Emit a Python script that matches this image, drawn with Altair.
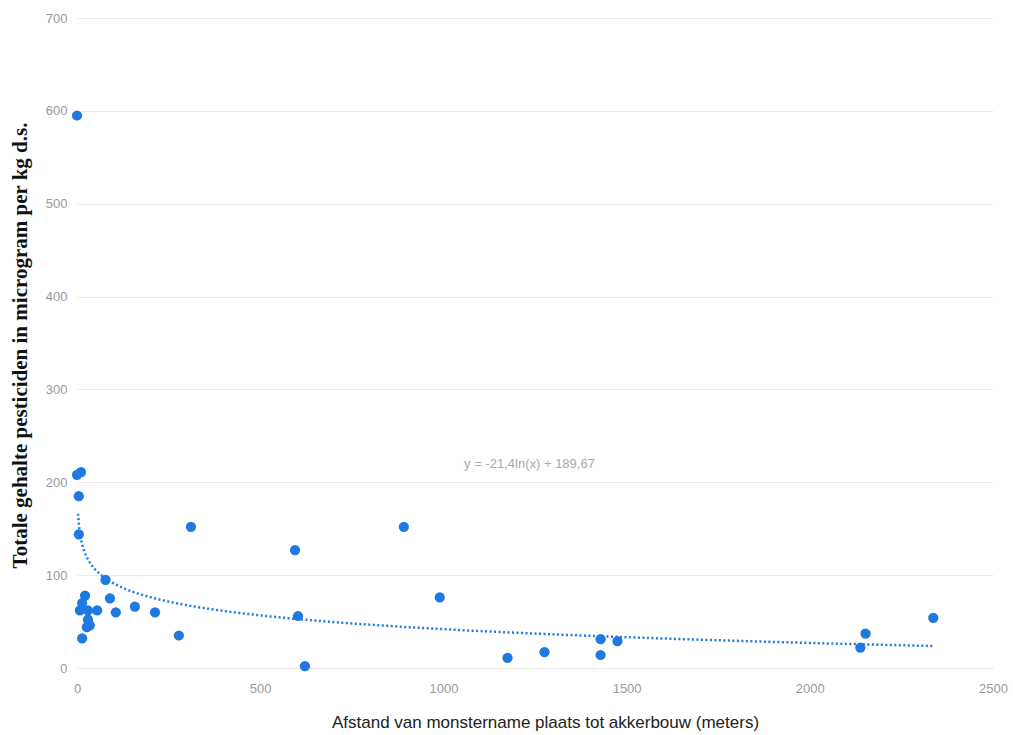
import altair as alt
import pandas as pd

# Distance to arable farming (m) and total pesticide content (µg/kg d.s.)
afstand = [0, 0, 11, 5, 5, 78, 90, 106, 158, 213, 278, 311, 595, 603, 622,
           892, 990, 1175, 1276, 1429, 1429, 1475, 2138, 2152, 2337,
           22, 14, 8, 30, 55, 30, 27, 35, 14]
gehalte = [595, 208, 211, 185, 144, 95, 75, 60, 66, 60, 35, 152, 127, 56, 2,
           152, 76, 11, 17, 31, 14, 29, 22, 37, 54,
           78, 70, 62, 62, 62, 52, 44, 46, 32]

# Logarithmic trendline coefficients shown on the chart
trend_a = -21.4
trend_b = 189.67
trend_start = 3
trend_end = 2340
trend_label = "y = -21,4ln(x) + 189,67"

x_ticks = [0, 500, 1000, 1500, 2000, 2500]
y_ticks = [0, 100, 200, 300, 400, 500, 600, 700]

df = pd.DataFrame({"afstand": afstand, "gehalte": gehalte})

blue = "#1f7ae0"
label_font = "Liberation Sans"

x_scale = alt.Scale(domain=[0, 2500], nice=False)
y_scale = alt.Scale(domain=[0, 700], nice=False)

x_axis = alt.Axis(
    values=x_ticks, format="d", grid=False, domain=True, domainColor="#e6e6e6", ticks=False,
    labelColor="#9a9a9a", labelFont=label_font, labelFontSize=13, labelPadding=14,
    labelFlush=False,
    title="Afstand van monstername plaats tot akkerbouw (meters)",
    titleFont="Liberation Sans", titleFontSize=17, titleFontWeight="normal",
    titleColor="#222222", titleX=468, titleY=54, titleBaseline="middle",
)
y_axis = alt.Axis(
    values=y_ticks, format="d", grid=True, gridColor="#ececec", domain=False, ticks=False,
    labelColor="#9a9a9a", labelFont=label_font, labelFontSize=13, labelPadding=10,
    labelFlush=False,
    title="Totale gehalte pesticiden in microgram per kg d.s.",
    titleFont="Liberation Serif", titleFontSize=21, titleFontWeight="bold",
    titleColor="#111111", titleAngle=-90, titleX=-57, titleY=327,
    titleAlign="center", titleBaseline="middle",
)

points = alt.Chart(df).mark_circle(size=105, color=blue, opacity=1).encode(
    x=alt.X("afstand:Q", scale=x_scale, axis=x_axis),
    y=alt.Y("gehalte:Q", scale=y_scale, axis=y_axis),
)

trend = (
    alt.Chart(alt.SequenceGenerator(sequence=alt.SequenceParams(start=trend_start, stop=trend_end, step=1, **{"as": "tx"})))
    .transform_calculate(ty=f"{trend_a} * log(datum.tx) + {trend_b}")
    .mark_line(color=blue, strokeWidth=2.5, strokeDash=[2, 2.5])
    .encode(
        x=alt.X("tx:Q", scale=x_scale),
        y=alt.Y("ty:Q", scale=y_scale),
    )
)

label = alt.Chart(pd.DataFrame({"t": [trend_label]})).mark_text(
    color="#aaaaaa", fontSize=13, font=label_font, align="center", baseline="middle"
).encode(
    x=alt.datum(1235), y=alt.datum(220), text="t:N"
)

chart = alt.layer(trend, points, label).properties(
    width=916, height=650,
    autosize=alt.AutoSizeParams(type="none"),
    padding={"left": 77, "top": 18, "right": 20, "bottom": 67},
    background="white",
).configure_view(stroke=None)

chart.save("out.html", embed_options={"renderer": "svg", "actions": False})
